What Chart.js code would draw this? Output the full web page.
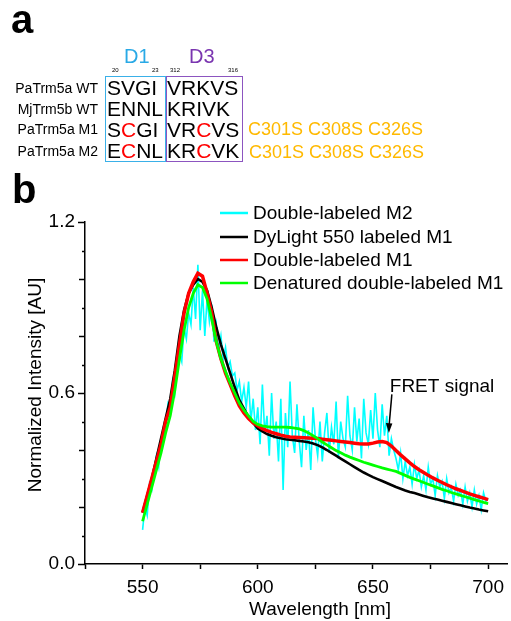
<!DOCTYPE html>
<html>
<head>
<meta charset="utf-8">
<script src="https://cdn.jsdelivr.net/npm/chart.js@4"></script>
<style>
  body { margin: 0; background: #fff; }
  #wrap { position: relative; width: 511px; height: 621px; overflow: hidden; font-family: "Liberation Sans", Arial, sans-serif; }
  #chart { position: absolute; left: 0; top: 0; }
  .t { position: absolute; white-space: nowrap; line-height: 1; color: #000; }
  .box { position: absolute; box-sizing: border-box; }
  .r { color: #ff0000; }
</style>
</head>
<body>
<div id="wrap">
  <canvas id="chart" width="511" height="621"></canvas>

  <!-- panel a: sequence table -->
  <div class="t" style="left:11px;top:-1px;font-size:40px;font-weight:bold;">a</div>
  <div class="t" style="left:124px;top:46px;font-size:20px;color:#29a9e6;">D1</div>
  <div class="t" style="left:189px;top:46px;font-size:20px;color:#7a35b0;">D3</div>
  <div class="t" style="left:112px;top:67px;font-size:6px;">20</div>
  <div class="t" style="left:152px;top:67px;font-size:6px;">23</div>
  <div class="t" style="left:170px;top:67px;font-size:6px;">312</div>
  <div class="t" style="left:228px;top:67px;font-size:6px;">316</div>
  <div class="box" style="left:105px;top:76px;width:61px;height:86px;border:1.5px solid #3ab0e8;"></div>
  <div class="box" style="left:166px;top:76px;width:77px;height:86px;border:1.5px solid #8c55c0;"></div>

  <div class="t" style="right:413px;top:81px;font-size:14px;">PaTrm5a WT</div>
  <div class="t" style="right:413px;top:102px;font-size:14px;">MjTrm5b WT</div>
  <div class="t" style="right:413px;top:122px;font-size:14px;">PaTrm5a M1</div>
  <div class="t" style="right:413px;top:144px;font-size:14px;">PaTrm5a M2</div>

  <div class="t" style="left:107px;top:77px;font-size:21px;">SVGI</div>
  <div class="t" style="left:107px;top:98px;font-size:21px;">ENNL</div>
  <div class="t" style="left:107px;top:119px;font-size:21px;">S<span class="r">C</span>GI</div>
  <div class="t" style="left:107px;top:140px;font-size:21px;">E<span class="r">C</span>NL</div>
  <div class="t" style="left:167px;top:77px;font-size:21px;">VRKVS</div>
  <div class="t" style="left:167px;top:98px;font-size:21px;">KRIVK</div>
  <div class="t" style="left:167px;top:119px;font-size:21px;">VR<span class="r">C</span>VS</div>
  <div class="t" style="left:167px;top:140px;font-size:21px;">KR<span class="r">C</span>VK</div>

  <div class="t" style="left:248px;top:120px;font-size:18px;color:#ffb900;">C301S C308S C326S</div>
  <div class="t" style="left:249px;top:143px;font-size:18px;color:#ffb900;">C301S C308S C326S</div>

  <div class="t" style="left:12px;top:169px;font-size:40px;font-weight:bold;">b</div>
</div>

<script>
// emission spectra
const wavelength1nm = [
  550, 551, 552, 553, 554, 555, 556, 557, 558, 559,
  560, 561, 562, 563, 564, 565, 566, 567, 568, 569,
  570, 571, 572, 573, 574, 575, 576, 577, 578, 579,
  580, 581, 582, 583, 584, 585, 586, 587, 588, 589,
  590, 591, 592, 593, 594, 595, 596, 597, 598, 599,
  600, 601, 602, 603, 604, 605, 606, 607, 608, 609,
  610, 611, 612, 613, 614, 615, 616, 617, 618, 619,
  620, 621, 622, 623, 624, 625, 626, 627, 628, 629,
  630, 631, 632, 633, 634, 635, 636, 637, 638, 639,
  640, 641, 642, 643, 644, 645, 646, 647, 648, 649,
  650, 651, 652, 653, 654, 655, 656, 657, 658, 659,
  660, 661, 662, 663, 664, 665, 666, 667, 668, 669,
  670, 671, 672, 673, 674, 675, 676, 677, 678, 679,
  680, 681, 682, 683, 684, 685, 686, 687, 688, 689,
  690, 691, 692, 693, 694, 695, 696, 697, 698, 699,
  700
];

const wavelength2nm = [
  550, 552, 554, 556, 558, 560, 562, 564, 566, 568,
  570, 572, 574, 576, 578, 580, 582, 584, 586, 588,
  590, 592, 594, 596, 598, 600, 602, 604, 606, 608,
  610, 612, 614, 616, 618, 620, 622, 624, 626, 628,
  630, 632, 634, 636, 638, 640, 642, 644, 646, 648,
  650, 652, 654, 656, 658, 660, 662, 664, 666, 668,
  670, 672, 674, 676, 678, 680, 682, 684, 686, 688,
  690, 692, 694, 696, 698, 700
];

// Double-labeled M2 (noisy trace)
const doubleM2 = [
  0.12, 0.20, 0.17, 0.28, 0.26, 0.33, 0.38, 0.34, 0.44, 0.47,
  0.49, 0.56, 0.53, 0.64, 0.60, 0.70, 0.74, 0.71, 0.83, 0.79,
  0.88, 0.84, 0.97, 0.86, 1.05, 0.82, 0.96, 0.80, 0.93, 0.85,
  0.91, 0.78, 0.84, 0.75, 0.80, 0.72, 0.76, 0.69, 0.71, 0.66,
  0.67, 0.61, 0.64, 0.57, 0.62, 0.55, 0.64, 0.50, 0.58, 0.47,
  0.55, 0.42, 0.63, 0.46, 0.52, 0.38, 0.60, 0.44, 0.50, 0.36,
  0.58, 0.26, 0.53, 0.41, 0.64, 0.45, 0.39, 0.56, 0.43, 0.34,
  0.52, 0.40, 0.47, 0.33, 0.55, 0.44, 0.38, 0.50, 0.36, 0.46,
  0.53, 0.39, 0.48, 0.42, 0.57, 0.37, 0.50, 0.44, 0.41, 0.59,
  0.45, 0.40, 0.55, 0.43, 0.51, 0.37, 0.58, 0.46, 0.42, 0.54,
  0.44, 0.60, 0.47, 0.41, 0.56, 0.45, 0.52, 0.38, 0.44, 0.40,
  0.37, 0.33, 0.39, 0.30, 0.36, 0.31, 0.34, 0.28, 0.35, 0.30,
  0.33, 0.27, 0.31, 0.26, 0.34, 0.28, 0.30, 0.24, 0.31, 0.27,
  0.29, 0.23, 0.30, 0.25, 0.27, 0.22, 0.28, 0.24, 0.26, 0.21,
  0.27, 0.22, 0.25, 0.20, 0.26, 0.21, 0.24, 0.19, 0.25, 0.22,
  0.23
];

// DyLight 550 labeled M1
const dylightM1 = [
  0.18, 0.24, 0.30, 0.37, 0.44, 0.51, 0.58, 0.68, 0.80, 0.89,
  0.95, 0.98, 1.00, 0.99, 0.96, 0.90, 0.83, 0.77, 0.72, 0.67,
  0.62, 0.575, 0.545, 0.515, 0.495, 0.475, 0.465, 0.456, 0.45, 0.445,
  0.441, 0.438, 0.436, 0.434, 0.432, 0.43, 0.427, 0.423, 0.417, 0.409,
  0.40, 0.39, 0.38, 0.37, 0.36, 0.35, 0.34, 0.33, 0.321, 0.313,
  0.305, 0.298, 0.291, 0.284, 0.277, 0.27, 0.264, 0.258, 0.253, 0.249,
  0.244, 0.239, 0.234, 0.23, 0.226, 0.222, 0.218, 0.214, 0.21, 0.206,
  0.202, 0.198, 0.195, 0.191, 0.188, 0.185
];

// Double-labeled M1
const doubleM1 = [
  0.18, 0.24, 0.30, 0.36, 0.42, 0.50, 0.55, 0.66, 0.77, 0.88,
  0.95, 0.99, 1.02, 1.01, 0.95, 0.88, 0.78, 0.72, 0.67, 0.63,
  0.59, 0.555, 0.53, 0.51, 0.495, 0.485, 0.475, 0.468, 0.462, 0.457,
  0.452, 0.448, 0.446, 0.445, 0.444, 0.443, 0.442, 0.441, 0.44, 0.438,
  0.436, 0.434, 0.432, 0.43, 0.428, 0.426, 0.424, 0.422, 0.421, 0.421,
  0.424, 0.428, 0.43, 0.426, 0.414, 0.398, 0.383, 0.369, 0.355, 0.342,
  0.331, 0.321, 0.311, 0.302, 0.294, 0.286, 0.278, 0.271, 0.264, 0.258,
  0.252, 0.246, 0.241, 0.236, 0.231, 0.226
];

// Denatured double-labeled M1
const denaturedM1 = [
  0.15, 0.21, 0.27, 0.33, 0.39, 0.46, 0.52, 0.61, 0.72, 0.82,
  0.90, 0.95, 0.98, 0.97, 0.93, 0.86, 0.78, 0.72, 0.675, 0.635,
  0.60, 0.565, 0.54, 0.52, 0.50, 0.49, 0.485, 0.482, 0.48, 0.48,
  0.48, 0.48, 0.479, 0.477, 0.474, 0.468, 0.46, 0.45, 0.44, 0.428,
  0.418, 0.408, 0.398, 0.39, 0.382, 0.375, 0.369, 0.363, 0.357, 0.352,
  0.347, 0.342, 0.337, 0.333, 0.329, 0.325, 0.318, 0.311, 0.304, 0.298,
  0.292, 0.286, 0.28, 0.274, 0.268, 0.262, 0.257, 0.251, 0.246, 0.241,
  0.236, 0.231, 0.226, 0.221, 0.216, 0.212
];

const seriesLabels = ['Double-labeled M2', 'DyLight 550 labeled M1', 'Double-labeled M1', 'Denatured double-labeled M1'];
const xLabelTicks = [550, 600, 650, 700];
const yLabelTicks = [0.0, 0.6, 1.2];

const FONT = '"Liberation Sans", Arial, sans-serif';
Chart.defaults.font.family = FONT;
Chart.defaults.color = '#000';

const pairs = (xs, ys) => ys.map((v, i) => ({ x: xs[i], y: v }));

// legend, axis titles, y ticks and the FRET arrow
const decorations = {
  id: 'decorations',
  afterDraw(chart) {
    const { ctx, scales: { x, y } } = chart;
    ctx.save();

    // y ticks: long at labelled values, medium every 0.2, short every 0.1
    ctx.strokeStyle = '#000';
    ctx.lineWidth = 1.5;
    y.ticks.forEach(t => {
      const k = Math.round(t.value * 10);
      const len = k % 6 === 0 ? 7 : (k % 2 === 0 ? 6 : 3);
      const py = Math.round(y.getPixelForValue(t.value)) + 0.5;
      ctx.beginPath();
      ctx.moveTo(x.left, py);
      ctx.lineTo(x.left - len, py);
      ctx.stroke();
    });

    // axis titles
    ctx.fillStyle = '#000';
    ctx.font = '19px ' + FONT;
    ctx.textAlign = 'center';
    ctx.textBaseline = 'middle';
    ctx.fillText('Wavelength [nm]', 320, 610);
    ctx.save();
    ctx.translate(36, 385);
    ctx.rotate(-Math.PI / 2);
    ctx.fillText('Normalized Intensity [AU]', 0, 0);
    ctx.restore();

    // legend
    const rows = [213, 237, 260, 283];
    chart.data.datasets.forEach((ds, i) => {
      ctx.strokeStyle = ds.borderColor;
      ctx.lineWidth = 2.5;
      ctx.beginPath();
      ctx.moveTo(220, rows[i]);
      ctx.lineTo(248, rows[i]);
      ctx.stroke();
      ctx.fillStyle = '#000';
      ctx.textAlign = 'left';
      ctx.fillText(ds.label, 253, rows[i] + 1);
    });

    // FRET signal annotation
    const tipX = x.getPixelForValue(656.9), tipY = y.getPixelForValue(0.46);
    const tailX = x.getPixelForValue(658.2), tailY = y.getPixelForValue(0.595);
    ctx.strokeStyle = '#000';
    ctx.lineWidth = 1.5;
    ctx.beginPath();
    ctx.moveTo(tailX, tailY);
    ctx.lineTo(tipX + 0.3, tipY - 8);
    ctx.stroke();
    ctx.fillStyle = '#000';
    ctx.beginPath();
    ctx.moveTo(tipX, tipY);
    ctx.lineTo(tipX - 3, tipY - 10);
    ctx.lineTo(tipX + 3.5, tipY - 9.5);
    ctx.closePath();
    ctx.fill();
    ctx.textAlign = 'left';
    ctx.textBaseline = 'alphabetic';
    ctx.fillText('FRET signal', x.getPixelForValue(657.3), y.getPixelForValue(0.603));

    ctx.restore();
  }
};

new Chart(document.getElementById('chart'), {
  type: 'line',
  data: {
    datasets: [
      { label: seriesLabels[0], data: pairs(wavelength1nm, doubleM2), borderColor: '#00ffff', borderWidth: 1.6, order: 4 },
      { label: seriesLabels[1], data: pairs(wavelength2nm, dylightM1), borderColor: '#000000', borderWidth: 2.6, order: 3 },
      { label: seriesLabels[2], data: pairs(wavelength2nm, doubleM1), borderColor: '#ff0000', borderWidth: 3.5, order: 2 },
      { label: seriesLabels[3], data: pairs(wavelength2nm, denaturedM1), borderColor: '#00ff00', borderWidth: 2.8, order: 1 }
    ]
  },
  options: {
    responsive: false,
    animation: false,
    layout: { padding: { top: 222, left: 0, right: 0, bottom: 0 } },
    elements: { point: { radius: 0 }, line: { tension: 0 } },
    plugins: { legend: { display: false }, tooltip: { enabled: false } },
    scales: {
      x: {
        type: 'linear',
        min: 525,
        max: 708.6,
        afterFit: s => { s.height = 57; },
        border: { color: '#000', width: 1.5 },
        grid: { drawOnChartArea: false, drawTicks: true, tickLength: 5, tickColor: '#000', tickWidth: 1.5 },
        ticks: {
          stepSize: 25,
          includeBounds: false,
          autoSkip: false,
          maxRotation: 0,
          padding: 7,
          font: { size: 19 },
          callback: v => xLabelTicks.includes(v) ? String(v) : ''
        }
      },
      y: {
        min: 0,
        max: 1.2,
        afterFit: s => { s.width = 85; },
        border: { color: '#000', width: 1.5 },
        grid: { drawOnChartArea: false, drawTicks: false },
        ticks: {
          stepSize: 0.1,
          autoSkip: false,
          padding: 10,
          font: { size: 19 },
          callback: v => {
            const hit = yLabelTicks.find(t => Math.abs(t - v) < 1e-6);
            return hit === undefined ? '' : hit.toFixed(1);
          }
        }
      }
    }
  },
  plugins: [decorations]
});
</script>
</body>
</html>
